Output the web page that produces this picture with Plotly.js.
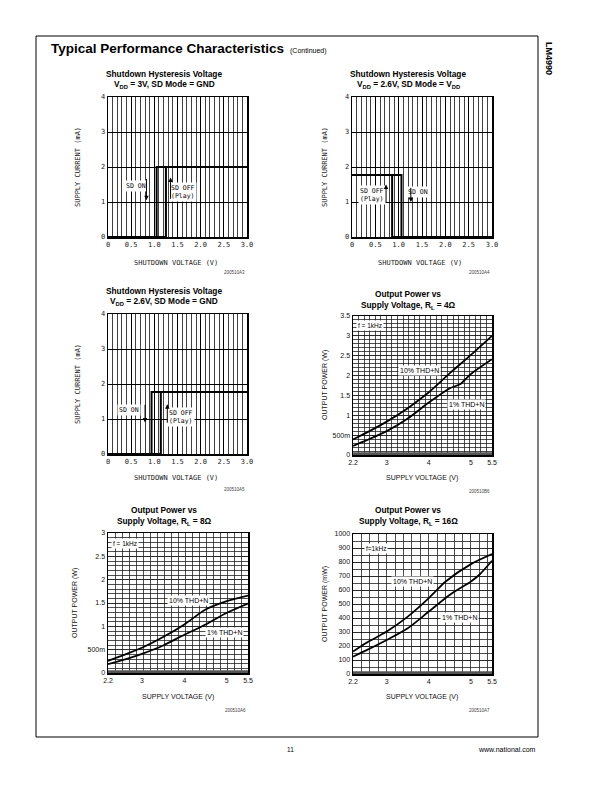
<!DOCTYPE html>
<html><head><meta charset="utf-8">
<script src="https://cdn.plot.ly/plotly-3.0.1.min.js"></script>
<style>html,body{margin:0;padding:0;background:#fff}#c{width:612px;height:792px}</style>
</head><body><div id="c"></div>
<script>
// ---------- DATA ----------
// Shutdown hysteresis charts (x: shutdown voltage V, y: supply current mA)
const sdTickVals = [0, 0.5, 1.0, 1.5, 2.0, 2.5, 3.0];
const sdTickText = ["0", "0.5", "1.0", "1.5", "2.0", "2.5", "3.0"];
const sdYTicks = [0, 1, 2, 3, 4];

const c1RiseX = [0, 1.25, 1.25, 3.0];
const c1RiseY = [0, 0, 2.0, 2.0];
const c1FallX = [3.0, 1.05, 1.05, 0];
const c1FallY = [2.0, 2.0, 0, 0];

const c2RiseX = [0, 1.06, 1.06, 3.0];
const c2RiseY = [1.77, 1.77, 0, 0];
const c2FallX = [3.0, 0.86, 0.86, 0];
const c2FallY = [0, 0, 1.77, 1.77];

const c3RiseX = [0, 1.14, 1.14, 3.0];
const c3RiseY = [0, 0, 1.77, 1.77];
const c3FallX = [3.0, 0.94, 0.94, 0];
const c3FallY = [1.77, 1.77, 0, 0];

// Output power vs supply voltage
const opXTicks = [2.2, 3, 4, 5, 5.5];
const opXTickText = ["2.2", "3", "4", "5", "5.5"];

const vdd4 = [2.2, 2.5, 3.0, 3.5, 4.0, 4.5, 5.0, 5.5];
const p4_10 = [0.39, 0.55, 0.84, 1.18, 1.58, 2.06, 2.52, 3.0];
const vdd4b = [2.2, 2.5, 3.0, 3.5, 4.0, 4.5, 4.75, 5.0, 5.5];
const p4_1 = [0.23, 0.36, 0.60, 0.92, 1.32, 1.68, 1.79, 2.04, 2.41];
const y4Ticks = [0, 0.5, 1, 1.5, 2, 2.5, 3, 3.5];
const y4Text = ["0", "500m", "1", "1.5", "2", "2.5", "3", "3.5"];

const vdd8 = [2.2, 2.7, 3.0, 3.5, 4.0, 4.5, 5.0, 5.5];
const p8_10 = [0.26, 0.43, 0.54, 0.77, 1.04, 1.36, 1.54, 1.66];
const p8_1 = [0.19, 0.32, 0.41, 0.59, 0.82, 1.04, 1.29, 1.49];
const y8Ticks = [0, 0.5, 1, 1.5, 2, 2.5, 3];
const y8Text = ["0", "500m", "1", "1.5", "2", "2.5", "3"];

const vdd16a = [2.2, 2.5, 3.0, 3.5, 4.0, 4.4, 5.0, 5.5];
const p16_10 = [160, 220, 303, 410, 542, 661, 785, 857];
const vdd16b = [2.2, 2.5, 3.0, 3.5, 4.0, 4.5, 5.0, 5.2, 5.5];
const p16_1 = [124, 167, 243, 327, 446, 566, 661, 709, 809];
const y16Ticks = [0, 100, 200, 300, 400, 500, 600, 700, 800, 900, 1000];

// ---------- LAYOUT HELPERS ----------
const W = 612, H = 792;
const px = v => v / W;
const py = v => 1 - v / H;
const xd = (a, b) => [a / W, b / W];
const yd = (t, b) => [1 - b / H, 1 - t / H];

const ARIAL = "Liberation Sans, Arial, sans-serif";
const MONO = "DejaVu Sans Mono, Liberation Mono, monospace";

function sdX(dom, anchor) {
  return {domain: dom, anchor: anchor, range: [0, 3], tickvals: sdTickVals, ticktext: sdTickText,
    showgrid: true, gridcolor: "#000", gridwidth: 1, zeroline: false,
    minor: {dtick: 0.1, tick0: 0, showgrid: true, gridcolor: "#111", gridwidth: 0.8},
    showline: true, mirror: true, linecolor: "#000", linewidth: 1.5, ticks: "",
    tickfont: {family: MONO, size: 7, color: "#222"}, fixedrange: true};
}
function sdY(dom, anchor) {
  return {domain: dom, anchor: anchor, range: [0, 4], tickvals: sdYTicks,
    showgrid: true, gridcolor: "#000", gridwidth: 1, zeroline: false,
    showline: true, mirror: true, linecolor: "#000", linewidth: 1.5, ticks: "",
    tickfont: {family: MONO, size: 7, color: "#222"}, fixedrange: true};
}
function opX(dom, anchor, mdt) {
  return {domain: dom, anchor: anchor, range: [2.2, 5.5], tickvals: opXTicks, ticktext: opXTickText,
    showgrid: false, zeroline: false,
    minor: {dtick: mdt, tick0: 2.2, showgrid: true, gridcolor: "#222", gridwidth: 0.8},
    showline: true, mirror: true, linecolor: "#000", linewidth: 1.5, ticks: "",
    tickfont: {family: ARIAL, size: 7, color: "#111"}, fixedrange: true};
}
function opY(dom, anchor, rng, tv, tt, mdt) {
  return {domain: dom, anchor: anchor, range: rng, tickvals: tv, ticktext: tt,
    showgrid: true, gridcolor: "#222", gridwidth: 0.8, zeroline: false,
    minor: {dtick: mdt, tick0: 0, showgrid: true, gridcolor: "#222", gridwidth: 0.8},
    showline: true, mirror: true, linecolor: "#000", linewidth: 1.5, ticks: "",
    tickfont: {family: ARIAL, size: 7, color: "#111"}, fixedrange: true};
}

function line(x, y, xa, ya) {
  return {x: x, y: y, xaxis: xa, yaxis: ya, type: "scatter", mode: "lines",
    line: {color: "#000", width: 2}, hoverinfo: "skip", showlegend: false};
}
function curve(x, y, xa, ya) {
  return {x: x, y: y, xaxis: xa, yaxis: ya, type: "scatter", mode: "lines",
    line: {color: "#000", width: 1.8, shape: "spline", smoothing: 0.8}, hoverinfo: "skip", showlegend: false};
}

const traces = [
  line(c1RiseX, c1RiseY, "x", "y"), line(c1FallX, c1FallY, "x", "y"),
  line(c2RiseX, c2RiseY, "x2", "y2"), line(c2FallX, c2FallY, "x2", "y2"),
  line(c3RiseX, c3RiseY, "x3", "y3"), line(c3FallX, c3FallY, "x3", "y3"),
  curve(vdd4, p4_10, "x4", "y4"), curve(vdd4b, p4_1, "x4", "y4"),
  curve(vdd8, p8_10, "x5", "y5"), curve(vdd8, p8_1, "x5", "y5"),
  curve(vdd16a, p16_10, "x6", "y6"), curve(vdd16b, p16_1, "x6", "y6")
];

const ann = [];
function txt(text, x, y, size, opts) {
  ann.push(Object.assign({text: text, x: px(x), y: py(y), xref: "paper", yref: "paper",
    xanchor: "center", yanchor: "middle",
    showarrow: false, font: {family: ARIAL, size: size, color: "#000"}}, opts || {}));
}
function inner(text, x, y, xa, ya, fam, size, xanchor) {
  ann.push({text: text, x: x, y: y, xref: xa, yref: ya, showarrow: false,
    xanchor: xanchor || "center", yanchor: "middle", bgcolor: "#fff", borderpad: 1,
    font: {family: fam, size: size, color: "#000"}});
}
function arrow(x, y0, y1, xa, ya) {
  ann.push({text: "", x: x, y: y1, ax: x, ay: y0, xref: xa, yref: ya, axref: xa, ayref: ya,
    showarrow: true, arrowhead: 2, arrowsize: 0.9, arrowwidth: 1, arrowcolor: "#000"});
}

// Page header / footer
txt("<b>Typical Performance Characteristics</b>", 49, 49, 13.5, {xanchor: "left"});
txt("(Continued)", 288, 51, 7, {xanchor: "left"});
txt("<b>LM4990</b>", 549, 58, 9, {textangle: 90});
txt("11", 290, 749, 6.5);
txt("www.national.com", 538, 749, 7, {xanchor: "right"});

// Chart titles
const tfs = 8.3;
txt("<b>Shutdown Hysteresis Voltage</b>", 164, 74, tfs);
txt("<b>V<sub>DD</sub> = 3V, SD Mode = GND</b>", 164, 85, tfs);
txt("<b>Shutdown Hysteresis Voltage</b>", 408, 74, tfs);
txt("<b>V<sub>DD</sub> = 2.6V, SD Mode = V<sub>DD</sub></b>", 408, 85, tfs);
txt("<b>Shutdown Hysteresis Voltage</b>", 164, 291, tfs);
txt("<b>V<sub>DD</sub> = 2.6V, SD Mode = GND</b>", 164, 302, tfs);
txt("<b>Output Power vs</b>", 408, 294, tfs);
txt("<b>Supply Voltage, R<sub>L</sub> = 4Ω</b>", 408, 305, tfs);
txt("<b>Output Power vs</b>", 164, 510, tfs);
txt("<b>Supply Voltage, R<sub>L</sub> = 8Ω</b>", 164, 521, tfs);
txt("<b>Output Power vs</b>", 408, 510, tfs);
txt("<b>Supply Voltage, R<sub>L</sub> = 16Ω</b>", 408, 521, tfs);

// Axis titles
const mono = {family: MONO, size: 7, color: "#222"};
const arl = {family: ARIAL, size: 7, color: "#111"};
txt("SUPPLY CURRENT (mA)", 78, 167, 7, {textangle: -90, font: mono});
txt("SHUTDOWN VOLTAGE (V)", 176, 263, 7, {font: mono});
txt("SUPPLY CURRENT (mA)", 325, 167, 7, {textangle: -90, font: mono});
txt("SHUTDOWN VOLTAGE (V)", 420, 263, 7, {font: mono});
txt("SUPPLY CURRENT (mA)", 78, 384, 7, {textangle: -90, font: mono});
txt("SHUTDOWN VOLTAGE (V)", 176, 478, 7, {font: mono});
txt("OUTPUT POWER (W)", 325, 385, 7, {textangle: -90, font: arl});
txt("SUPPLY VOLTAGE (V)", 422, 478, 7, {font: arl});
txt("OUTPUT POWER (W)", 75, 603, 7, {textangle: -90, font: arl});
txt("SUPPLY VOLTAGE (V)", 178, 697, 7, {font: arl});
txt("OUTPUT POWER (mW)", 325, 604, 7, {textangle: -90, font: arl});
txt("SUPPLY VOLTAGE (V)", 422, 697, 7, {font: arl});

// Figure codes
const code = {family: ARIAL, size: 4.5, color: "#444"};
txt("200510A3", 247, 272, 4.5, {xanchor: "right", font: code});
txt("200510A4", 492, 272, 4.5, {xanchor: "right", font: code});
txt("200510A5", 247, 489, 4.5, {xanchor: "right", font: code});
txt("200510B6", 492, 491, 4.5, {xanchor: "right", font: code});
txt("200510A6", 248, 710, 4.5, {xanchor: "right", font: code});
txt("200510A7", 492, 710, 4.5, {xanchor: "right", font: code});

// In-plot labels and arrows
inner("SD ON", 0.6, 1.45, "x", "y", MONO, 6.5);
arrow(0.83, 1.7, 1.05, "x", "y");
inner("SD OFF<br>(Play)", 1.62, 1.3, "x", "y", MONO, 6.5);
arrow(1.35, 1.05, 1.7, "x", "y");

inner("SD OFF<br>(Play)", 0.42, 1.2, "x2", "y2", MONO, 6.5);
arrow(0.73, 0.95, 1.5, "x2", "y2");
inner("SD ON", 1.42, 1.3, "x2", "y2", MONO, 6.5);
arrow(1.26, 1.45, 1.0, "x2", "y2");

inner("SD ON", 0.46, 1.25, "x3", "y3", MONO, 6.5);
arrow(0.8, 1.45, 0.9, "x3", "y3");
inner("SD OFF<br>(Play)", 1.57, 1.05, "x3", "y3", MONO, 6.5);
arrow(1.28, 0.85, 1.42, "x3", "y3");

inner("f = 1kHz", 2.27, 3.27, "x4", "y4", ARIAL, 6.5, "left");
inner("10% THD+N", 3.78, 2.12, "x4", "y4", ARIAL, 7);
inner("1% THD+N", 4.9, 1.26, "x4", "y4", ARIAL, 7);

inner("f = 1kHz", 2.27, 2.77, "x5", "y5", ARIAL, 6.5, "left");
inner("10% THD+N", 4.1, 1.55, "x5", "y5", ARIAL, 7);
inner("1% THD+N", 4.95, 0.86, "x5", "y5", ARIAL, 7);

inner("f=1kHz", 2.45, 900, "x6", "y6", ARIAL, 6.5, "left");
inner("10% THD+N", 3.62, 661, "x6", "y6", ARIAL, 7);
inner("1% THD+N", 4.72, 406, "x6", "y6", ARIAL, 7);

// Shapes: page frame and dense bottom bands
const shapes = [
  {type: "rect", xref: "paper", yref: "paper", x0: px(36), x1: px(538), y0: py(737), y1: py(36),
   line: {color: "#000", width: 1}},
];
["4", "5", "6"].forEach(n => {
  shapes.push({type: "rect", xref: "x" + n + " domain", yref: "y" + n + " domain",
    x0: 0, x1: 1, y0: 0, y1: 0.02, fillcolor: "#555", line: {width: 0}, layer: "above"});
});

const layout = {
  width: W, height: H, autosize: false, margin: {l: 0, r: 0, t: 0, b: 0},
  paper_bgcolor: "#fff", plot_bgcolor: "#fff", showlegend: false,
  xaxis: sdX(xd(108, 247), "y"), yaxis: sdY(yd(97, 237), "x"),
  xaxis2: sdX(xd(352, 492), "y2"), yaxis2: sdY(yd(97, 237), "x2"),
  xaxis3: sdX(xd(108, 247), "y3"), yaxis3: sdY(yd(314, 454), "x3"),
  xaxis4: opX(xd(353, 492), "y4", 0.132), yaxis4: opY(yd(316, 455), "x4", [0, 3.5], y4Ticks, y4Text, 0.1),
  xaxis5: opX(xd(108, 248), "y5", 0.165), yaxis5: opY(yd(533, 673), "x5", [0, 3], y8Ticks, y8Text, 0.1),
  xaxis6: opX(xd(353, 492), "y6", 0.2), yaxis6: opY(yd(534, 674), "x6", [0, 1000], y16Ticks, y16Ticks.map(String), 50),
  annotations: ann, shapes: shapes
};

Plotly.newPlot("c", traces, layout, {staticPlot: true, displayModeBar: false});
</script></body></html>
